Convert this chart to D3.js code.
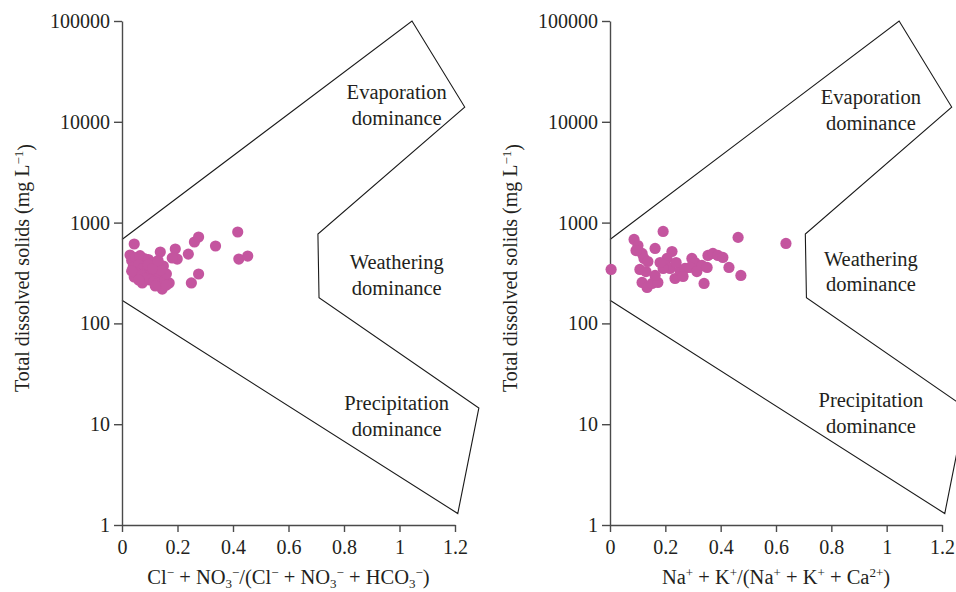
<!DOCTYPE html>
<html lang="en">
<head>
    <meta charset="UTF-8">
    <title>Gibbs diagrams</title>
    <script src="https://d3js.org/d3.v7.min.js"></script>
    <style>
        body {
            margin: 0;
            background-color: #fff;
        }
        svg {
            display: block;
        }
        text {
            font-family: "Liberation Serif", "DejaVu Serif", serif;
            fill: #231f20;
        }
        .axis path, .axis line {
            stroke: #4a4a4a;
            stroke-width: 1.4px;
        }
        .axis text {
            font-size: 20px;
            font-family: "Liberation Serif", serif;
            fill: #231f20;
        }
        .boundary {
            fill: none;
            stroke: #1a1a1a;
            stroke-width: 1.1px;
        }
        .dot {
            fill: #c4559f;
        }
    </style>
</head>
<body>
    <svg width="956" height="592"></svg>
    <script>
        // anion ratio Cl- + NO3- / (Cl- + NO3- + HCO3-) vs TDS
        const anionRatio = [0.044, 0.138, 0.192, 0.239, 0.261, 0.276, 0.337, 0.417, 0.421, 0.453,
            0.276, 0.250, 0.170, 0.199, 0.181, 0.145, 0.073, 0.044, 0.029, 0.149,
            0.035, 0.05, 0.065, 0.08, 0.095, 0.11, 0.125, 0.04, 0.06, 0.075,
            0.09, 0.105, 0.12, 0.135, 0.05, 0.07, 0.085, 0.10, 0.115, 0.13,
            0.155, 0.16, 0.14, 0.095, 0.06, 0.035, 0.11, 0.13, 0.16, 0.12];
        const anionTDS = [613, 511, 547, 487, 642, 719, 586, 807, 435, 466,
            309, 252, 252, 435, 446, 219, 252, 289, 477, 371,
            420, 450, 470, 440, 430, 400, 380, 360, 380, 350,
            330, 320, 300, 290, 320, 300, 280, 270, 260, 250,
            270, 310, 340, 380, 270, 330, 350, 420, 240, 235];

        // cation ratio Na+ + K+ / (Na+ + K+ + Ca2+) vs TDS
        const cationRatio = [0.004, 0.192, 0.087, 0.101, 0.163, 0.224, 0.116, 0.123, 0.137, 0.108,
            0.116, 0.134, 0.152, 0.173, 0.206, 0.199, 0.217, 0.235, 0.253, 0.271,
            0.296, 0.307, 0.289, 0.332, 0.351, 0.354, 0.372, 0.390, 0.408, 0.430,
            0.463, 0.473, 0.340, 0.636, 0.192, 0.181, 0.239, 0.314, 0.264, 0.163,
            0.130, 0.094];
        const cationTDS = [343, 817, 681, 593, 554, 517, 494, 441, 411, 343,
            255, 227, 249, 255, 441, 376, 351, 279, 335, 351,
            441, 402, 359, 376, 359, 472, 494, 472, 451, 359,
            713, 299, 249, 621, 351, 402, 402, 327, 292, 299,
            327, 528];

        // Gibbs boundary (ratio, TDS)
        const boundaryRatio = [0, 1.045, 1.235, 0.706, 0.71, 1.286, 1.21, 0];
        const boundaryTDS = [680, 100000, 14000, 770, 180, 14.5, 1.3, 170];

        const xTicks = [0, 0.2, 0.4, 0.6, 0.8, 1, 1.2];
        const yTicks = [1, 10, 100, 1000, 10000, 100000];

        const regionNames = ["Evaporation", "Weathering", "Precipitation"];

        const svg = d3.select("svg");

        const panels = [
            {
                x0: 122, x1: 455, ratio: anionRatio, tds: anionTDS,
                labelX: 0.99, labelLog: [4.296, 2.609, 1.21], titleX: 22,
                xTitle: [["Cl", 0], ["\u2212", -1], [" + NO", 0], ["3", 1], ["\u2212", -1], ["/(Cl", 0], ["\u2212", -1],
                         [" + NO", 0], ["3", 1], ["\u2212", -1], [" + HCO", 0], ["3", 1], ["\u2212", -1], [")", 0]]
            },
            {
                x0: 610, x1: 942, ratio: cationRatio, tds: cationTDS,
                labelX: 0.943, labelLog: [4.245, 2.644, 1.243], titleX: 510,
                xTitle: [["Na", 0], ["+", -1], [" + K", 0], ["+", -1], ["/(Na", 0], ["+", -1], [" + K", 0], ["+", -1],
                         [" + Ca", 0], ["2+", -1], [")", 0]]
            }
        ];

        const y = d3.scaleLog().domain([1, 100000]).range([525, 21]);

        panels.forEach(p => {
            const x = d3.scaleLinear().domain([0, 1.2]).range([p.x0, p.x1]);
            const g = svg.append("g");

            // boundary lines
            const line = d3.line()
                .x(i => x(boundaryRatio[i]))
                .y(i => y(boundaryTDS[i]));
            g.append("path")
                .attr("class", "boundary")
                .attr("d", line(d3.range(boundaryRatio.length)));

            // axes
            g.append("g")
                .attr("class", "axis")
                .attr("transform", `translate(0,${y(1)})`)
                .call(d3.axisBottom(x).tickValues(xTicks).tickSize(7).tickSizeOuter(0).tickPadding(8)
                    .tickFormat(d => String(+d.toFixed(1))));
            g.append("g")
                .attr("class", "axis")
                .attr("transform", `translate(${x(0)},0)`)
                .call(d3.axisLeft(y).tickValues(yTicks).tickSize(8).tickSizeOuter(0).tickPadding(4)
                    .tickFormat(d3.format("d")));

            // points
            g.append("g")
                .selectAll("circle")
                .data(p.ratio.map((r, i) => [r, p.tds[i]]))
                .join("circle")
                .attr("class", "dot")
                .attr("cx", d => x(d[0]))
                .attr("cy", d => y(d[1]))
                .attr("r", 5.6);

            // region labels
            regionNames.forEach((name, i) => {
                const t = g.append("text")
                    .attr("x", x(p.labelX))
                    .attr("y", y(Math.pow(10, p.labelLog[i])))
                    .attr("text-anchor", "middle")
                    .style("font-size", "20.5px");
                t.append("tspan").attr("x", x(p.labelX)).attr("dy", "0.35em").text(name);
                t.append("tspan").attr("x", x(p.labelX)).attr("dy", "1.25em").text("dominance");
            });

            // y title
            const yt = g.append("text")
                .attr("transform", `translate(${p.titleX},268) rotate(-90)`)
                .attr("text-anchor", "middle")
                .attr("dy", "0.35em")
                .style("font-size", "20px");
            yt.append("tspan").text("Total dissolved solids (mg L");
            yt.append("tspan").attr("dy", "-0.45em").style("font-size", "13px").text("\u22121");
            yt.append("tspan").attr("dy", "0.45em").text(")");

            // x title
            const xt = g.append("text")
                .attr("x", (p.x0 + p.x1) / 2)
                .attr("y", 584)
                .attr("text-anchor", "middle")
                .style("font-size", "20.5px");
            let shift = 0;
            p.xTitle.forEach(([s, pos]) => {
                const target = pos === -1 ? -7 : (pos === 1 ? 4 : 0);
                const ts = xt.append("tspan").attr("dy", target - shift).text(s);
                if (pos !== 0) ts.style("font-size", "13px");
                shift = target;
            });
        });
    </script>
</body>
</html>
